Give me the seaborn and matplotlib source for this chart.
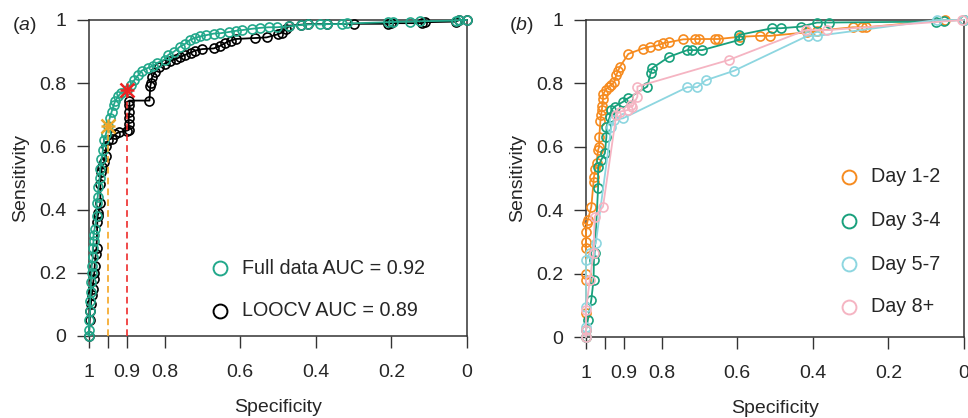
import matplotlib
matplotlib.use("Agg")
import numpy as np
import pandas as pd
import seaborn as sns
import matplotlib.pyplot as plt

# ---- data ----
# panel a : full data ROC and leave-one-out ROC
full_spec = [1.0, 1.0, 1.0, 0.997, 0.997, 0.995, 0.995, 0.993, 0.993, 0.99, 0.99, 0.988, 0.988, 0.985,
             0.98, 0.98, 0.977, 0.975, 0.972, 0.97, 0.967, 0.963, 0.96, 0.955, 0.95, 0.945, 0.94, 0.935,
             0.93, 0.922, 0.915, 0.9, 0.89, 0.88, 0.87, 0.86, 0.845, 0.83, 0.82, 0.8, 0.79, 0.775, 0.76,
             0.745, 0.733, 0.72, 0.706, 0.69, 0.67, 0.653, 0.63, 0.61, 0.595, 0.57, 0.548, 0.525, 0.503,
             0.47, 0.44, 0.42, 0.39, 0.37, 0.33, 0.318, 0.21, 0.196, 0.15, 0.124, 0.03, 0.02, 0.0]
full_sens = [0.0, 0.02, 0.05, 0.08, 0.11, 0.14, 0.17, 0.2, 0.22, 0.25, 0.28, 0.3, 0.32, 0.34,
             0.38, 0.42, 0.44, 0.47, 0.5, 0.53, 0.56, 0.59, 0.62, 0.64, 0.665, 0.69, 0.71, 0.73,
             0.745, 0.76, 0.77, 0.78, 0.795, 0.81, 0.825, 0.84, 0.848, 0.855, 0.864, 0.875, 0.89, 0.9, 0.915,
             0.925, 0.937, 0.943, 0.948, 0.952, 0.957, 0.958, 0.962, 0.966, 0.968, 0.972, 0.975, 0.977, 0.977,
             0.98, 0.984, 0.986, 0.986, 0.987, 0.987, 0.989, 0.993, 0.994, 0.995, 0.996, 0.998, 1.0, 1.0]

loo_spec = [1.0, 0.998, 0.997, 0.995, 0.993, 0.99, 0.988, 0.986, 0.985, 0.982, 0.98, 0.978, 0.977, 0.975,
            0.97, 0.97, 0.968, 0.965, 0.96, 0.955, 0.955, 0.95, 0.94, 0.93, 0.92, 0.9, 0.895, 0.895, 0.895,
            0.893, 0.893, 0.893, 0.84, 0.838, 0.836, 0.833, 0.825, 0.815, 0.8, 0.785, 0.77, 0.76, 0.745,
            0.73, 0.72, 0.7, 0.67, 0.653, 0.64, 0.625, 0.61, 0.56, 0.53, 0.5, 0.49, 0.48, 0.47, 0.44, 0.42,
            0.37, 0.3, 0.21, 0.2, 0.12, 0.11, 0.03, 0.02, 0.0]
loo_sens = [0.0, 0.05, 0.08, 0.1, 0.13, 0.15, 0.18, 0.2, 0.22, 0.26, 0.28, 0.36, 0.38, 0.39,
            0.42, 0.48, 0.52, 0.535, 0.55, 0.57, 0.6, 0.62, 0.625, 0.64, 0.645, 0.65, 0.652, 0.67, 0.69,
            0.71, 0.73, 0.745, 0.745, 0.79, 0.8, 0.82, 0.835, 0.851, 0.862, 0.87, 0.877, 0.882, 0.89,
            0.897, 0.903, 0.908, 0.91, 0.918, 0.927, 0.935, 0.94, 0.943, 0.945, 0.955, 0.96, 0.97, 0.982,
            0.985, 0.987, 0.987, 0.988, 0.988, 0.99, 0.99, 0.993, 0.995, 1.0, 1.0]

# optimal cut points (stars)
cut_spec = [0.95, 0.9]
cut_sens = [0.665, 0.78]

# panel b : ROC by day group
d12_spec = [1.0, 1.0, 1.0, 1.0, 1.0, 1.0, 1.0, 0.997, 0.995, 0.986, 0.98, 0.979, 0.975, 0.972, 0.968,
            0.965, 0.965, 0.962, 0.96, 0.958, 0.957, 0.955, 0.955, 0.948, 0.94, 0.933, 0.925, 0.92, 0.915,
            0.91, 0.888, 0.85, 0.83, 0.81, 0.796, 0.78, 0.743, 0.712, 0.7, 0.66, 0.65, 0.593, 0.54, 0.513,
            0.416, 0.39, 0.294, 0.27, 0.258, 0.05, 0.0]
d12_sens = [0.0, 0.075, 0.18, 0.2, 0.28, 0.3, 0.33, 0.36, 0.37, 0.41, 0.49, 0.505, 0.53, 0.55, 0.59,
            0.6, 0.63, 0.68, 0.7, 0.716, 0.73, 0.75, 0.765, 0.78, 0.79, 0.795, 0.805, 0.826, 0.84,
            0.853, 0.893, 0.91, 0.916, 0.92, 0.927, 0.93, 0.939, 0.94, 0.94, 0.94, 0.94, 0.947, 0.95, 0.95,
            0.961, 0.966, 0.977, 0.977, 0.977, 1.0, 1.0]

d34_spec = [1.0, 1.0, 0.995, 0.986, 0.98, 0.979, 0.977, 0.968, 0.968, 0.96, 0.95, 0.946, 0.946, 0.937,
            0.933, 0.924, 0.902, 0.889, 0.838, 0.829, 0.825, 0.78, 0.732, 0.72, 0.693, 0.595, 0.595,
            0.508, 0.485, 0.432, 0.389, 0.357, 0.075, 0.053, 0.0]
d34_sens = [0.0, 0.022, 0.054, 0.117, 0.18, 0.243, 0.265, 0.47, 0.536, 0.558, 0.58, 0.632, 0.663, 0.695,
            0.716, 0.727, 0.742, 0.753, 0.79, 0.832, 0.848, 0.884, 0.905, 0.905, 0.905, 0.937, 0.953,
            0.974, 0.974, 0.979, 0.992, 0.992, 0.995, 0.998, 1.0]

d57_spec = [1.0, 1.0, 1.0, 1.0, 0.99, 0.974, 0.933, 0.926, 0.902, 0.732, 0.706, 0.683, 0.608,
            0.414, 0.388, 0.072, 0.0]
d57_sens = [0.0, 0.033, 0.096, 0.243, 0.265, 0.296, 0.663, 0.685, 0.69, 0.788, 0.788, 0.81, 0.84,
            0.95, 0.95, 1.0, 1.0]

d8_spec = [1.0, 1.0, 1.0, 0.99, 0.98, 0.977, 0.955, 0.92, 0.911, 0.889, 0.88, 0.877, 0.864, 0.864,
           0.622, 0.419, 0.362, 0.004]
d8_sens = [0.0, 0.022, 0.085, 0.18, 0.265, 0.38, 0.411, 0.7, 0.711, 0.716, 0.732, 0.727, 0.758, 0.79,
           0.874, 0.968, 0.968, 1.0]

x_ticks = [1, 0.95, 0.9, 0.8, 0.6, 0.4, 0.2, 0]
x_labels = ["1", "", "0.9", "0.8", "0.6", "0.4", "0.2", "0"]
y_ticks = [0, 0.2, 0.4, 0.6, 0.8, 1]
y_labels = ["0", "0.2", "0.4", "0.6", "0.8", "1"]

green_a = "#22a88b"
green_b = "#18a07c"
orange = "#f68b1f"
lightblue = "#8dd6e0"
pink = "#f5b4c2"
txt = "#262626"

sns.set_style("ticks")
plt.rcParams["font.family"] = ["Liberation Sans", "DejaVu Sans"]
plt.rcParams["mathtext.fontset"] = "custom"
plt.rcParams["mathtext.rm"] = "Liberation Sans"
plt.rcParams["mathtext.it"] = "Liberation Sans:italic"

fig = plt.figure(figsize=(9.68, 4.18), dpi=100)
axa = fig.add_axes([89 / 968, 1 - 336 / 418, 378 / 968, 316 / 418])
axb = fig.add_axes([586 / 968, 1 - 337 / 418, 378 / 968, 317 / 418])


def roc(ax, spec, sens, color, lw=1.3):
    d = pd.DataFrame({"spec": spec, "sens": sens})
    sns.lineplot(data=d, x="spec", y="sens", sort=False, estimator=None, ax=ax,
                 color=color, lw=lw, marker="o", markersize=6.5, markerfacecolor="none",
                 markeredgecolor=color, markeredgewidth=1.2, clip_on=False, zorder=3)


def style(ax, letter):
    ax.set_xlim(1, 0)
    ax.set_ylim(0, 1)
    ax.set_xticks(x_ticks)
    ax.set_xticklabels(x_labels)
    ax.set_yticks(y_ticks)
    ax.set_yticklabels(y_labels)
    ax.tick_params(axis="both", direction="out", length=8.5, width=1, color="#333333",
                   labelsize=14, labelcolor=txt)
    ax.tick_params(axis="x", pad=12)
    ax.tick_params(axis="y", pad=8)
    for s in ax.spines.values():
        s.set_color("#333333")
        s.set_linewidth(1.1)
    ax.set_xlabel("Specificity", fontsize=14, color=txt)
    ax.set_ylabel("Sensitivity", fontsize=14, color=txt)
    ax.xaxis.set_label_coords(0.5, -0.2)
    ax.yaxis.set_label_coords(-0.158, 0.5)
    bb = ax.get_position()
    fig.text(bb.x0 - 77 / 968, 1 - 25 / 418, "(" + r"$\mathit{" + letter + "}$" + ")",
             fontsize=14, color=txt, va="center", ha="left")


def legend(ax, labels, colors, x0, ys):
    for lab, c, y in zip(labels, colors, ys):
        ax.plot([x0], [y], marker="o", markersize=10, markerfacecolor="none",
                markeredgecolor=c, markeredgewidth=1.4, ls="none",
                transform=ax.transAxes, clip_on=False)
        ax.text(x0 + 22 / 378, y, lab, transform=ax.transAxes, fontsize=14.2,
                color=txt, va="center", ha="left")


# ---- panel a ----
roc(axa, loo_spec, loo_sens, "black")
roc(axa, full_spec, full_sens, green_a)
axa.plot([cut_spec[0], cut_spec[0]], [0, cut_sens[0]], ls=(0, (4, 2.5)), color="#f5a623", lw=1.2, zorder=4)
axa.plot([cut_spec[1], cut_spec[1]], [0, cut_sens[1] - 0.01], ls=(0, (4, 2.5)), color="#ee2b2b", lw=1.2, zorder=4)
for m in ["+", "x"]:
    axa.plot([cut_spec[0]], [cut_sens[0]], marker=m, markersize=10, mew=1.8, color="#eca62a", zorder=5, clip_on=False)
    axa.plot([cut_spec[1]], [cut_sens[1]], marker=m, markersize=10, mew=1.8, color="#ee2222", zorder=5, clip_on=False)
style(axa, "a")
legend(axa, ["Full data AUC = 0.92", "LOOCV AUC = 0.89"], [green_a, "black"],
       (220 - 89) / 378, [(336 - 268) / 316, (336 - 311) / 316])

# ---- panel b ----
roc(axb, d12_spec, d12_sens, orange)
roc(axb, d34_spec, d34_sens, green_b)
roc(axb, d57_spec, d57_sens, lightblue)
roc(axb, d8_spec, d8_sens, pink)
style(axb, "b")
legend(axb, ["Day 1-2", "Day 3-4", "Day 5-7", "Day 8+"], [orange, green_b, lightblue, pink],
       (849 - 586) / 378, [(337 - y) / 317 for y in [177, 221, 264, 307]])

fig.savefig("out.png", dpi=100)
